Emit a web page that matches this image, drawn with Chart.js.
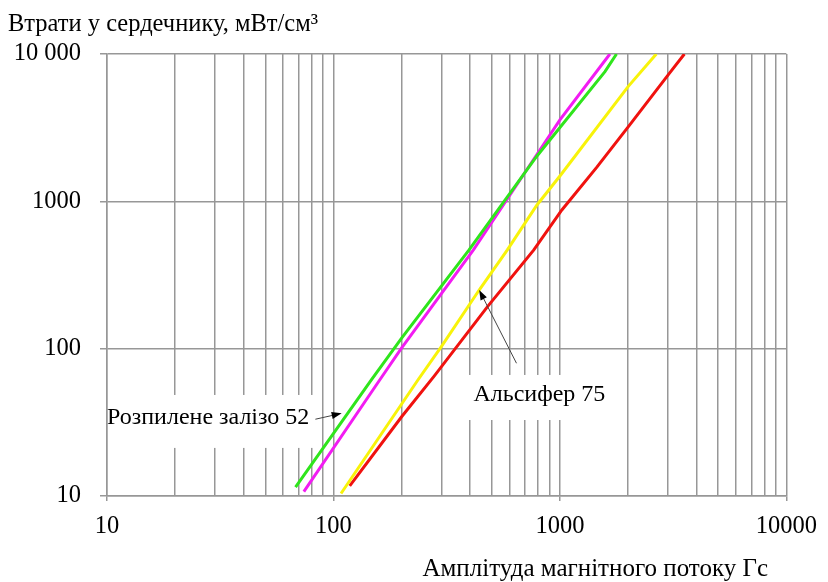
<!DOCTYPE html>
<html>
<head>
<meta charset="utf-8">
<script src="https://cdn.jsdelivr.net/npm/chart.js@4.4.1/dist/chart.umd.min.js"></script>
<style>
  body { margin: 0; background: #fff; }
  canvas { display: block; }
</style>
</head>
<body>
<canvas id="chart" width="828" height="582"></canvas>
<script>
// DATA (flux amplitude, Gs -> core loss, mW/cm3)

var greenB = [68, 147, 200, 397, 792, 1581, 1778];
var greenLoss = [11.5, 61.3, 118, 468, 2033, 7590, 10000];

var magentaB = [74, 160, 199, 415, 790, 1000, 1662];
var magentaLoss = [10.7, 61.3, 100, 468, 2070, 3573, 10000];

var yellowB = [108, 236, 299, 440, 586, 792, 1000, 2000, 2665];
var yellowLoss = [10.4, 61.3, 103, 250, 468, 945, 1487, 6007, 10000];

var redB = [118, 200, 279, 479, 767, 1020, 1453, 2034, 3048, 3545];
var redLoss = [11.7, 34.5, 65.4, 193, 468, 874, 1700, 3303, 7413, 10000];

var xGridValues = [10, 20, 30, 40, 50, 60, 70, 80, 90,
                   100, 200, 300, 400, 500, 600, 700, 800, 900,
                   1000, 2000, 3000, 4000, 5000, 6000, 7000, 8000, 9000, 10000];
var xTickLabels = ['10', '100', '1000', '10000'];
var yTickValues = [10, 100, 1000, 10000];
var yTickLabels = ['10', '100', '1000', '10 000'];

var yTitle = 'Втрати у сердечнику, мВт/см³';
var xTitle = 'Амплітуда магнітного потоку Гс';

// text labels with arrows, in data units
var notes = [
    { text: 'Розпилене залізо 52', at: [10, 33.8], box: [10.2, 87.7, 21.2, 48.5], tail: [83.2, 33.2], tip: [108.7, 36.4] },
    { text: 'Альсифер 75', at: [415, 48.5], box: [353, 1778, 32.8, 66.3], tail: [643, 79.6], tip: [440, 250.4] }
];

var gridColor = '#979797';
var FONT = '"Liberation Serif", "Times New Roman", serif';

function toPoints(xs, ys) {
    return xs.map((x, i) => ({ x: x, y: ys[i] }));
}

function isDecade(v) {
    return xTickLabels.indexOf(String(v)) !== -1;
}

var decorPlugin = {
    id: 'decor',
    beforeDatasetsDraw(chart) {
        // white label boxes hide the grid lines behind the text
        const ctx = chart.ctx, sx = chart.scales.x, sy = chart.scales.y;
        ctx.save();
        ctx.fillStyle = '#fff';
        notes.forEach(n => {
            const x1 = sx.getPixelForValue(n.box[0]), x2 = sx.getPixelForValue(n.box[1]);
            const y1 = sy.getPixelForValue(n.box[3]), y2 = sy.getPixelForValue(n.box[2]);
            ctx.fillRect(x1, y1, x2 - x1, y2 - y1);
        });
        ctx.restore();
    },
    afterDatasetsDraw(chart) {
        const ctx = chart.ctx, sx = chart.scales.x, sy = chart.scales.y;
        ctx.save();
        ctx.font = '24px ' + FONT;
        ctx.textBaseline = 'middle';
        ctx.textAlign = 'left';
        notes.forEach(n => {
            ctx.fillStyle = '#000';
            ctx.fillText(n.text, sx.getPixelForValue(n.at[0]), sy.getPixelForValue(n.at[1]));
            // arrow
            const x0 = sx.getPixelForValue(n.tail[0]), y0 = sy.getPixelForValue(n.tail[1]);
            const x1 = sx.getPixelForValue(n.tip[0]), y1 = sy.getPixelForValue(n.tip[1]);
            const a = Math.atan2(y1 - y0, x1 - x0);
            ctx.strokeStyle = '#444';
            ctx.lineWidth = 1;
            ctx.beginPath();
            ctx.moveTo(x0, y0);
            ctx.lineTo(x1 - 8 * Math.cos(a), y1 - 8 * Math.sin(a));
            ctx.stroke();
            ctx.beginPath();
            ctx.moveTo(x1, y1);
            ctx.lineTo(x1 - 10 * Math.cos(a) + 3.5 * Math.sin(a), y1 - 10 * Math.sin(a) - 3.5 * Math.cos(a));
            ctx.lineTo(x1 - 10 * Math.cos(a) - 3.5 * Math.sin(a), y1 - 10 * Math.sin(a) + 3.5 * Math.cos(a));
            ctx.closePath();
            ctx.fill();
        });
        ctx.restore();
    },
    afterDraw(chart) {
        const ctx = chart.ctx;
        ctx.save();
        ctx.fillStyle = '#000';
        ctx.textBaseline = 'alphabetic';
        ctx.textAlign = 'left';
        ctx.font = '24.5px ' + FONT;
        ctx.fillText(yTitle, 8, 31);
        ctx.textAlign = 'right';
        ctx.font = '25px ' + FONT;
        ctx.fillText(xTitle, 768, 576);
        ctx.restore();
    }
};

var lineStyle = { borderWidth: 3, pointRadius: 0, tension: 0, fill: false };

var chart = new Chart(document.getElementById('chart'), {
    type: 'line',
    data: {
        datasets: [
            Object.assign({ label: 'Розпилене залізо 52', data: toPoints(greenB, greenLoss), borderColor: '#2fe51c' }, lineStyle),
            Object.assign({ label: 'magenta', data: toPoints(magentaB, magentaLoss), borderColor: '#f21cf2' }, lineStyle),
            Object.assign({ label: 'Альсифер 75', data: toPoints(yellowB, yellowLoss), borderColor: '#f8f30a' }, lineStyle),
            Object.assign({ label: 'red', data: toPoints(redB, redLoss), borderColor: '#f0120f' }, lineStyle)
        ]
    },
    options: {
        responsive: false,
        devicePixelRatio: 1,
        animation: false,
        layout: { padding: { top: 54, right: 37, bottom: 0, left: 0 } },
        plugins: {
            legend: { display: false },
            tooltip: { enabled: false }
        },
        scales: {
            x: {
                type: 'logarithmic',
                min: 10,
                max: 10000,
                afterBuildTicks: (scale) => { scale.ticks = xGridValues.map(v => ({ value: v })); },
                afterFit: (scale) => { scale.height = 86; },
                grid: {
                    color: gridColor,
                    lineWidth: 1.5,
                    tickLength: 5,
                    tickColor: (c) => (c.tick && isDecade(c.tick.value)) ? gridColor : 'rgba(0,0,0,0)'
                },
                border: { color: gridColor, width: 1.5 },
                ticks: {
                    autoSkip: false,
                    maxRotation: 0,
                    padding: 11,
                    color: '#000',
                    font: { family: FONT, size: 24.5 },
                    callback: (value) => isDecade(value) ? String(value) : ''
                }
            },
            y: {
                type: 'logarithmic',
                min: 10,
                max: 10000,
                afterBuildTicks: (scale) => { scale.ticks = yTickValues.map(v => ({ value: v })); },
                afterFit: (scale) => { scale.width = 107; },
                grid: { color: gridColor, lineWidth: 1.5, tickLength: 7 },
                border: { color: gridColor, width: 1.5 },
                ticks: {
                    autoSkip: false,
                    padding: 19,
                    crossAlign: 'near',
                    color: '#000',
                    font: { family: FONT, size: 24.5 },
                    callback: (value) => yTickLabels[yTickValues.indexOf(value)]
                }
            }
        }
    },
    plugins: [decorPlugin]
});
</script>
</body>
</html>
